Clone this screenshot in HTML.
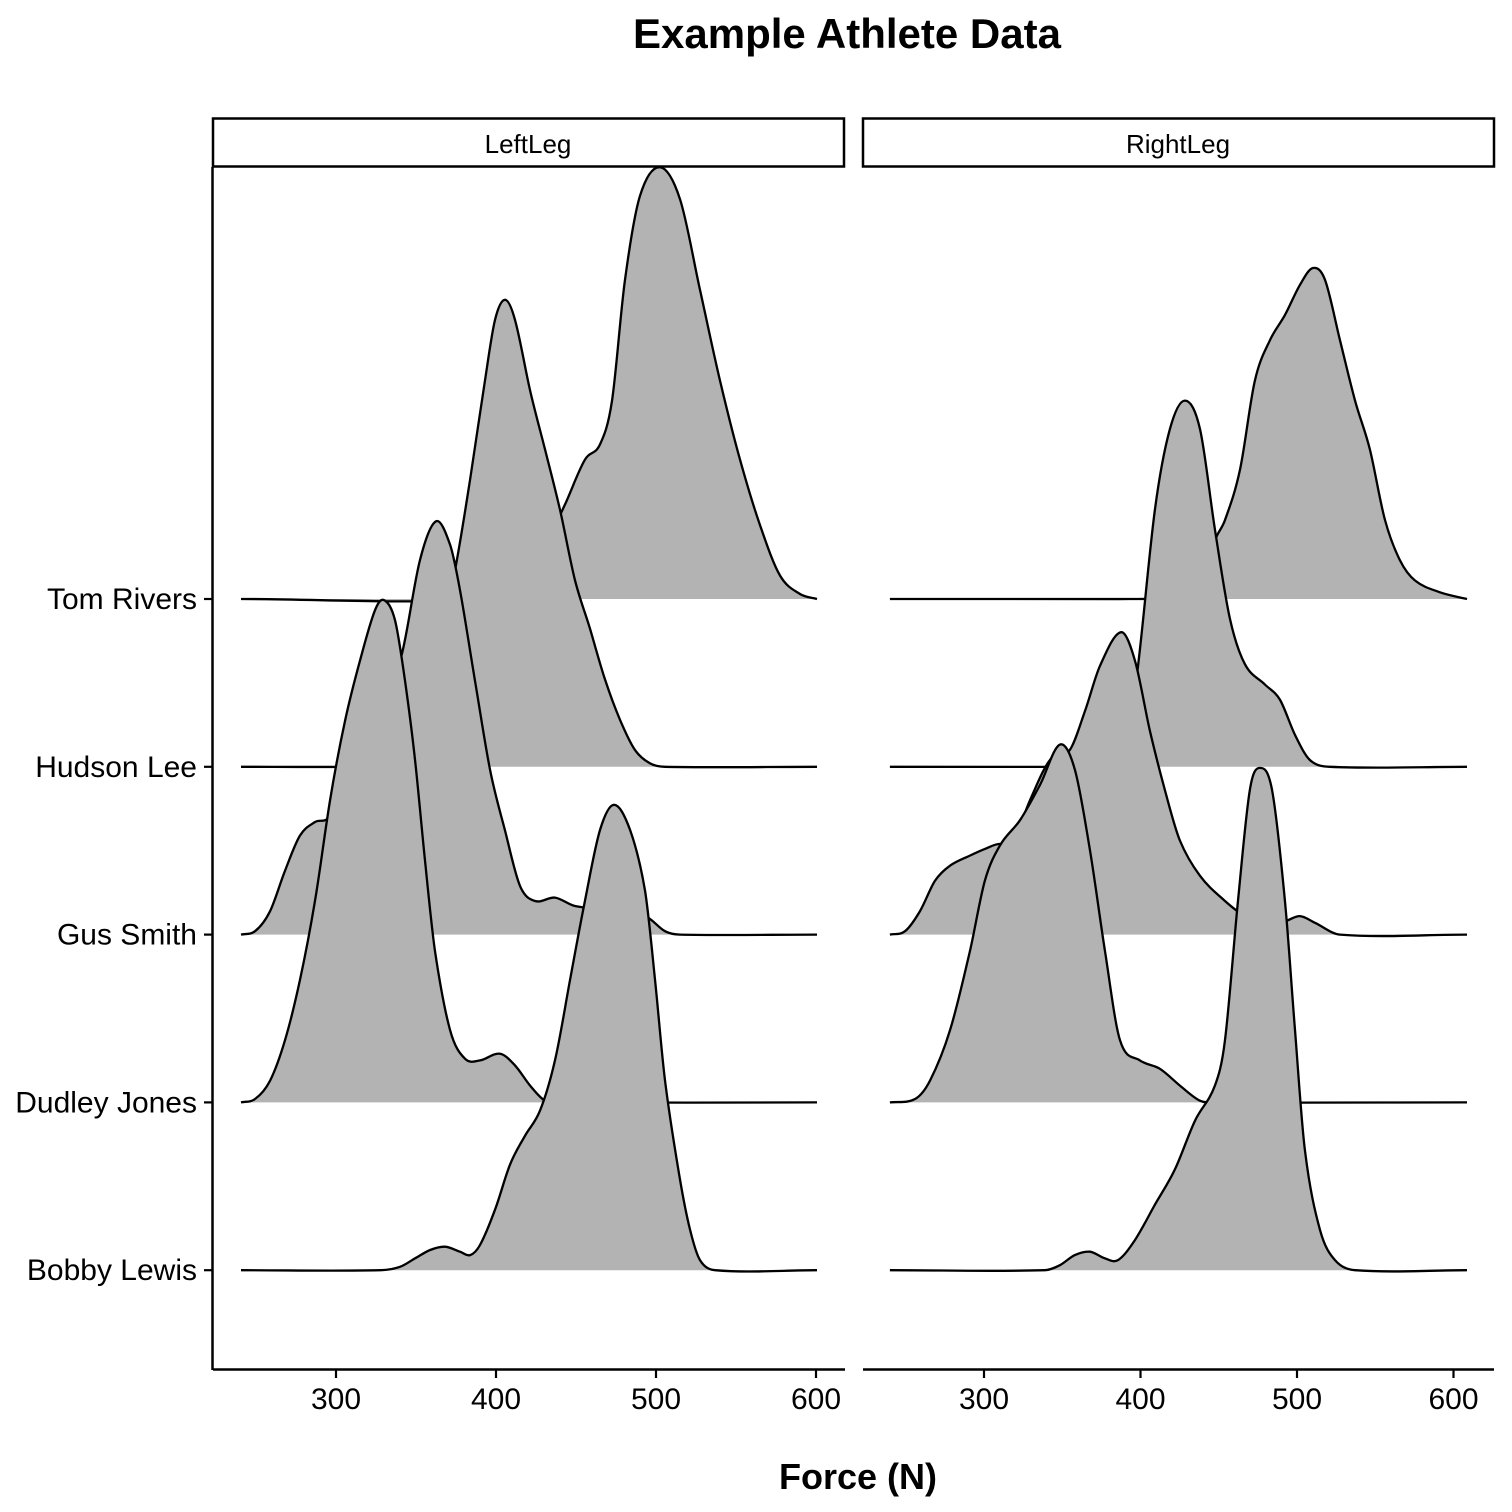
<!DOCTYPE html>
<html><head><meta charset="utf-8"><style>
html,body{margin:0;padding:0;background:#fff}
svg{display:block;font-family:"Liberation Sans",Arial,sans-serif}
</style></head><body>
<svg id="chart" width="1512" height="1512" viewBox="0 0 1512 1512">
<rect x="0" y="0" width="1512" height="1512" fill="#fff"/>
<text x="847" y="48" text-anchor="middle" font-size="42" font-weight="bold">Example Athlete Data</text>
<g><rect x="213" y="118.5" width="631" height="48" fill="#fff" stroke="#000" stroke-width="2.5"/><text x="528" y="153" text-anchor="middle" font-size="26">LeftLeg</text></g>
<g><rect x="863" y="118.5" width="631" height="48" fill="#fff" stroke="#000" stroke-width="2.5"/><text x="1178" y="153" text-anchor="middle" font-size="26">RightLeg</text></g>
<g id="ridges"></g>
<g id="axes"></g>
<text x="858" y="1489" text-anchor="middle" font-size="36" font-weight="bold">Force (N)</text>
</svg>
<script>
const athletes = ["Tom Rivers","Hudson Lee","Gus Smith","Dudley Jones","Bobby Lewis"];
const xTicks = [300,400,500,600];
// LeftLeg
const tomLx = [240.6,390,415,430.6,443,455.6,465,472.5,480.6,490,502.5,515,527.5,540,552.5,565,577.5,590,600.6];
const tomLy = [0,0,0.11,0.32,0.56,0.83,0.92,1.18,1.90,2.40,2.57,2.38,1.84,1.30,0.83,0.44,0.14,0.03,0];
const hudLx = [240.6,302.5,327.5,340,352.5,365,374.4,383.8,393.1,399.4,405.6,411.9,421.3,430.6,440,449.4,458.8,468.1,477.5,486.9,496.3,505.6,600.6];
const hudLy = [0,0,0.01,0.07,0.28,0.76,1.17,1.71,2.30,2.66,2.78,2.66,2.24,1.89,1.53,1.11,0.82,0.52,0.28,0.10,0.02,0,0];
const gusLx = [240.6,249.4,258.8,268.1,277.5,286.9,296.3,305.6,315,327.5,340,352.5,362.5,371.3,377.5,386.9,396.3,405.6,415,424.4,436.9,449.4,493.1,505.6,515,600.6];
const gusLy = [0,0.02,0.14,0.38,0.59,0.67,0.71,0.98,1.27,1.51,1.63,2.23,2.46,2.32,2.05,1.51,0.98,0.62,0.29,0.20,0.22,0.17,0.11,0.02,0,0];
const dudLx = [240.6,249.4,258.8,268.1,277.5,286.9,296.3,305.6,315,324.4,330,336.9,343.1,349.4,355.6,361.9,371.3,380.6,390,402.5,411.9,421.3,430.6,440,600.6];
const dudLy = [0,0.02,0.13,0.37,0.73,1.20,1.80,2.27,2.63,2.93,2.99,2.87,2.51,2.04,1.44,0.90,0.43,0.26,0.25,0.29,0.22,0.10,0.01,0,0];
const bobLx = [240.6,327.5,340,349.4,358.8,368.1,377.5,383.8,390,399.4,408.8,418.1,427.5,436.9,446.3,455.6,465,473.8,483.8,493.1,499.4,505.6,515,521.3,527.5,536.9,600.6];
const bobLy = [0,0,0.02,0.07,0.12,0.14,0.11,0.09,0.15,0.36,0.63,0.80,0.95,1.25,1.73,2.20,2.62,2.77,2.62,2.26,1.73,1.13,0.54,0.24,0.06,0,0];
// RightLeg
const tomRx = [239.9,393.3,425.2,438,447.6,454,463.6,473.1,482.7,492.3,501.9,510.2,517.9,527.5,537.1,546.6,556.2,565.8,575.4,591.4,608.6];
const tomRy = [0,0,0.01,0.05,0.35,0.47,0.77,1.30,1.54,1.69,1.87,1.97,1.90,1.54,1.18,0.89,0.47,0.23,0.11,0.04,0];
const hudRx = [239.9,361.3,374.1,386.9,396.5,409.2,418.8,428.4,438,447.6,457.2,466.8,479.5,489.1,498.7,508.3,521.1,608.6];
const hudRy = [0,0,0.01,0.13,0.46,1.53,2.01,2.18,2.01,1.41,0.88,0.61,0.49,0.40,0.19,0.04,0,0];
const gusRx = [239.9,249.5,259.1,268.7,278.3,291,300.6,310.2,316.6,329.4,342.2,354.9,364.5,374.1,387.6,396.5,406.1,415.6,425.2,438,454,466.8,479.5,492.3,501.9,511.5,527.5,608.6];
const gusRy = [0,0.02,0.14,0.32,0.41,0.47,0.51,0.54,0.51,0.80,1.04,1.10,1.33,1.60,1.80,1.63,1.21,0.86,0.56,0.35,0.20,0.11,0.07,0.08,0.11,0.07,0,0];
const dudRx = [239.9,255.9,265.5,278.3,291,300.6,310.2,323,335.8,348.5,358.1,367.7,377.3,386.9,399.6,412.4,425.2,438,447.6,608.6];
const dudRy = [0,0.02,0.13,0.43,0.90,1.32,1.53,1.68,1.89,2.13,1.98,1.50,0.90,0.37,0.25,0.20,0.10,0.01,0,0];
const bobRx = [239.9,339,348.5,358.1,367.7,377.3,385.6,396.5,409.2,422,434.8,447.6,454,462.3,469.9,476.3,484,492.3,498.7,505.1,514.7,524.3,537.1,608.6];
const bobRy = [0,0,0.03,0.09,0.11,0.07,0.06,0.18,0.39,0.60,0.89,1.10,1.37,2.20,2.86,2.99,2.86,2.20,1.43,0.71,0.24,0.06,0,0];

const NS="http://www.w3.org/2000/svg";
const panels = [
  {name:"left", x0:336, k:1.6, series:[[tomLx,tomLy],[hudLx,hudLy],[gusLx,gusLy],[dudLx,dudLy],[bobLx,bobLy]]},
  {name:"right", x0:984, k:1.565, series:[[tomRx,tomRy],[hudRx,hudRy],[gusRx,gusRy],[dudRx,dudRy],[bobRx,bobRy]]}
];
const baseY = i => 599 + i*167.8;
const hScale = 168;
const ridges = document.getElementById('ridges');
const axes = document.getElementById('axes');
function mk(tag, attrs){const e=document.createElementNS(NS,tag);for(const k in attrs)e.setAttribute(k,attrs[k]);return e;}
function smooth(pts){
  const n=pts.length, m=[];
  for(let i=0;i<n;i++){
    const a=pts[Math.max(0,i-1)], b=pts[Math.min(n-1,i+1)];
    m.push((b[1]-a[1])/(b[0]-a[0]));
  }
  let d='M'+pts[0][0].toFixed(1)+','+pts[0][1].toFixed(1);
  for(let i=0;i<n-1;i++){
    const p1=pts[i],p2=pts[i+1],dx=(p2[0]-p1[0])/3;
    d+='C'+(p1[0]+dx).toFixed(1)+','+(p1[1]+m[i]*dx).toFixed(1)+' '+(p2[0]-dx).toFixed(1)+','+(p2[1]-m[i+1]*dx).toFixed(1)+' '+p2[0].toFixed(1)+','+p2[1].toFixed(1);
  }
  return d;
}
panels.forEach(p=>{
  const xs = v => p.x0 + (v-300)*p.k;
  p.series.forEach((s,i)=>{
    const b = baseY(i);
    const pts = s[0].map((v,j)=>[xs(v), b - s[1][j]*hScale]);
    const line = smooth(pts);
    const fill = mk('path',{d:line+'L'+pts[pts.length-1][0].toFixed(1)+','+b+'L'+pts[0][0].toFixed(1)+','+b+'Z',fill:'#b3b3b3',stroke:'none'});
    
    
    ridges.appendChild(fill);
    const ln = mk('path',{d:line,fill:'none',stroke:'#000','stroke-width':2.3,'stroke-linejoin':'round'});
    
    
    ridges.appendChild(ln);
  });
  const x1 = p.name==='left'?213:863, x2 = p.name==='left'?845:1494;
  const ax = mk('line',{x1:x1,x2:x2,y1:1369.5,y2:1369.5,stroke:'#000','stroke-width':2.5});
  
  
  axes.appendChild(ax);
  xTicks.forEach(t=>{
    const tk = mk('line',{x1:xs(t),x2:xs(t),y1:1369,y2:1378,stroke:'#000','stroke-width':2.2});
    
    
    axes.appendChild(tk);
    const tl = mk('text',{x:xs(t),y:1409,'text-anchor':'middle','font-size':30,fill:'#000'});
    tl.textContent = t;
    
    
    axes.appendChild(tl);
  });
});
const yl = mk('line',{x1:212.5,x2:212.5,y1:167,y2:1370,stroke:'#000','stroke-width':2.5});


axes.appendChild(yl);
athletes.forEach((a,i)=>{
  const b = baseY(i);
  const tk = mk('line',{x1:204,x2:213,y1:b,y2:b,stroke:'#000','stroke-width':2.2});
  
  
  axes.appendChild(tk);
  const tl = mk('text',{x:197,y:b+10,'text-anchor':'end','font-size':30,fill:'#000'});
  tl.textContent = a;
  
  
  axes.appendChild(tl);
});
</script>
</body></html>
